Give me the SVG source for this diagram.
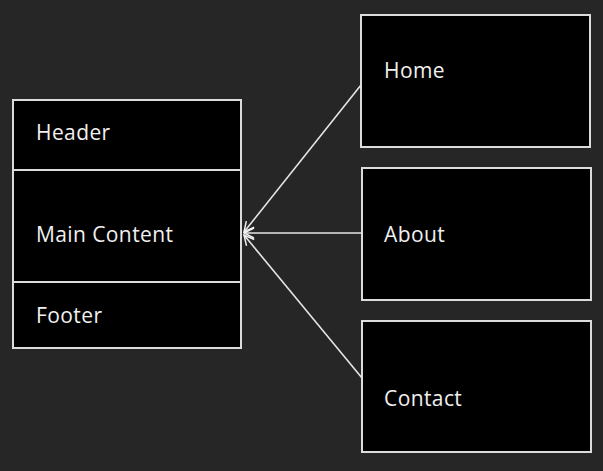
<svg xmlns="http://www.w3.org/2000/svg" width="603" height="471" viewBox="0 0 603 471">
<style>
.box{fill:#000;stroke:#dcdcdc;stroke-width:2}
.lbl{fill:#f0f0f0;font-family:"Open Sans","Noto Sans",sans-serif;font-size:21px;letter-spacing:0.4px}
.con{stroke:#e6e6e6;stroke-width:1.6;fill:none}
</style>
<defs>
<marker id="arr" viewBox="0 0 12 12" refX="11" refY="6" markerWidth="12" markerHeight="12" markerUnits="userSpaceOnUse" orient="auto">
<path d="M1,1 L11,6 L1,11" fill="none" stroke="#f0f0f0" stroke-width="1.5"/>
</marker>
</defs>
<rect width="603" height="471" fill="#262626"/>
<g id="layout">
<rect class="box" x="13" y="100" width="228" height="248"/>
<line x1="13" y1="170" x2="241" y2="170" stroke="#dcdcdc" stroke-width="2"/>
<line x1="13" y1="282" x2="241" y2="282" stroke="#dcdcdc" stroke-width="2"/>
</g>
<g id="header"><text class="lbl" x="36" y="140">Header</text></g>
<g id="main-content"><text class="lbl" x="36" y="242">Main Content</text></g>
<g id="footer"><text class="lbl" x="36" y="323">Footer</text></g>
<g id="home"><rect class="box" x="361" y="15" width="229" height="132"/><text class="lbl" x="384" y="78">Home</text></g>
<g id="about"><rect class="box" x="362" y="168" width="229" height="132"/><text class="lbl" x="384" y="242">About</text></g>
<g id="contact"><rect class="box" x="362" y="321" width="229" height="131"/><text class="lbl" x="384" y="406">Contact</text></g>
<g id="connectors">
<line class="con" x1="361" y1="85" x2="244" y2="232" marker-end="url(#arr)"/>
<line class="con" x1="362" y1="233" x2="244" y2="233" marker-end="url(#arr)"/>
<line class="con" x1="362" y1="378" x2="244" y2="235" marker-end="url(#arr)"/>
</g>
</svg>
